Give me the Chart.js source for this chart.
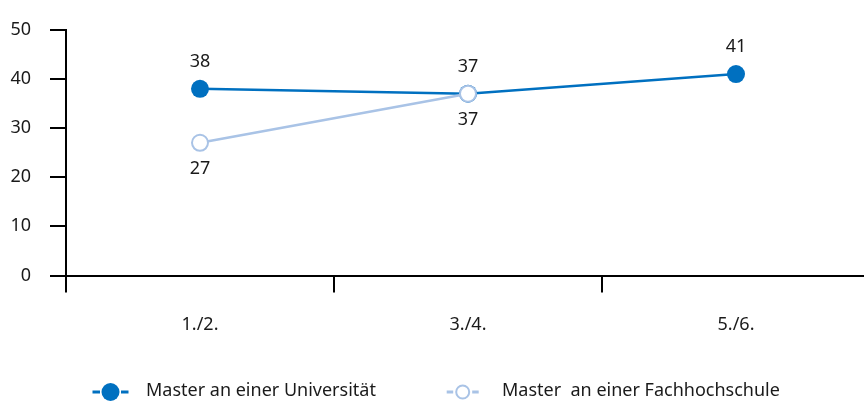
<!DOCTYPE html>
<html>
<head>
<meta charset="utf-8">
<script src="https://cdn.jsdelivr.net/npm/chart.js@4.4.1/dist/chart.umd.min.js"></script>
<style>
  html, body { margin: 0; padding: 0; background: #fff; overflow: hidden; }
  canvas { display: block; }
</style>
</head>
<body>
<canvas id="chart" width="864" height="401"></canvas>
<script>
// Data
const categories = ['1./2.', '3./4.', '5./6.'];
const uniValues = [38, 37, 41];
const fhValues = [27, 37, null];
const seriesNames = ['Master an einer Universität', 'Master  an einer Fachhochschule'];
const yTicks = [0, 10, 20, 30, 40, 50];

const darkBlue = '#0070C0';
const lightBlue = '#A9C3E6';
const textColor = '#1a1a1a';
const fontFamily = '"Noto Sans", "Open Sans", sans-serif';
const fontSize = 18;

// the x axis of the original runs a few pixels past the right edge of the picture
const stretchX = {
    id: 'stretchX',
    afterLayout(chart) {
        const x = chart.scales.x;
        const extra = 870 - x.right;
        x.right += extra;
        x.width += extra;
        x.configure();
        chart.chartArea.right += extra;
        chart.chartArea.width += extra;
    }
};

// value labels: first series above the point, second below
const valueLabels = {
    id: 'valueLabels',
    afterDatasetsDraw(chart) {
        const ctx = chart.ctx;
        ctx.save();
        ctx.font = fontSize + 'px ' + fontFamily;
        ctx.fillStyle = textColor;
        ctx.textAlign = 'center';
        ctx.textBaseline = 'middle';
        chart.data.datasets.forEach((ds, i) => {
            const meta = chart.getDatasetMeta(i);
            meta.data.forEach((pt, j) => {
                const v = ds.data[j];
                if (v === null || v === undefined) return;
                const dy = i === 0 ? -27 : 26;
                ctx.fillText(String(v), pt.x, pt.y + dy);
            });
        });
        ctx.restore();
    }
};

// legend drawn by hand: dash - circle - dash, then the series name
const legendItems = [
    { markerX: 110.5, textX: 146, color: darkBlue, filled: true, r: 9, dash: 7.5, lw: 3 },
    { markerX: 462.7, textX: 502, color: lightBlue, filled: false, r: 6.5, dash: 6.5, lw: 3 }
];
const customLegend = {
    id: 'customLegend',
    afterDraw(chart) {
        const ctx = chart.ctx;
        const y = 392;
        ctx.save();
        legendItems.forEach((it, i) => {
            const half = it.r + (it.filled ? 1.5 : 3);
            ctx.strokeStyle = it.color;
            ctx.lineWidth = it.lw;
            ctx.beginPath();
            ctx.moveTo(it.markerX - half - it.dash, y);
            ctx.lineTo(it.markerX - half, y);
            ctx.moveTo(it.markerX + half, y);
            ctx.lineTo(it.markerX + half + it.dash, y);
            ctx.stroke();
            ctx.beginPath();
            ctx.arc(it.markerX, y, it.r, 0, Math.PI * 2);
            if (it.filled) {
                ctx.fillStyle = it.color;
                ctx.fill();
            } else {
                ctx.fillStyle = '#fff';
                ctx.fill();
                ctx.lineWidth = 2;
                ctx.stroke();
            }
            ctx.font = fontSize + 'px ' + fontFamily;
            ctx.fillStyle = textColor;
            ctx.textAlign = 'left';
            ctx.textBaseline = 'middle';
            ctx.fillText(seriesNames[i], it.textX, y - 1);
        });
        ctx.restore();
    }
};

new Chart(document.getElementById('chart'), {
    type: 'line',
    data: {
        labels: categories,
        datasets: [
            {
                label: seriesNames[0],
                data: uniValues,
                order: 1,
                borderColor: darkBlue,
                backgroundColor: darkBlue,
                borderWidth: 2.5,
                pointRadius: 9,
                pointBorderWidth: 0,
                pointBackgroundColor: darkBlue,
                tension: 0
            },
            {
                label: seriesNames[1],
                data: fhValues,
                order: 0,
                borderColor: lightBlue,
                backgroundColor: '#fff',
                borderWidth: 2.5,
                pointRadius: 8,
                pointBorderWidth: 2,
                pointBorderColor: lightBlue,
                pointBackgroundColor: '#fff',
                tension: 0
            }
        ]
    },
    options: {
        responsive: false,
        animation: false,
        layout: { padding: { top: 28, left: 0, right: 0, bottom: 30 } },
        scales: {
            x: {
                offset: true,
                afterFit: (scale) => { scale.height = 95.5; },
                border: { display: true, color: '#000', width: 2 },
                grid: {
                    offset: true,
                    drawOnChartArea: false,
                    drawTicks: true,
                    tickLength: 17,
                    color: '#000',
                    lineWidth: 2
                },
                ticks: {
                    padding: 22,
                    color: textColor,
                    font: { size: fontSize, family: fontFamily }
                }
            },
            y: {
                min: 0,
                max: 50,
                afterFit: (scale) => { scale.width = 66; },
                afterBuildTicks: (scale) => { scale.ticks = yTicks.map(v => ({ value: v })); },
                border: { display: true, color: '#000', width: 2 },
                grid: {
                    drawOnChartArea: false,
                    drawTicks: true,
                    tickLength: 16,
                    color: '#000',
                    lineWidth: 2
                },
                ticks: {
                    padding: 19,
                    color: textColor,
                    font: { size: fontSize, family: fontFamily }
                }
            }
        },
        plugins: {
            legend: { display: false },
            tooltip: { enabled: false }
        }
    },
    plugins: [stretchX, valueLabels, customLegend]
});
</script>
</body>
</html>
